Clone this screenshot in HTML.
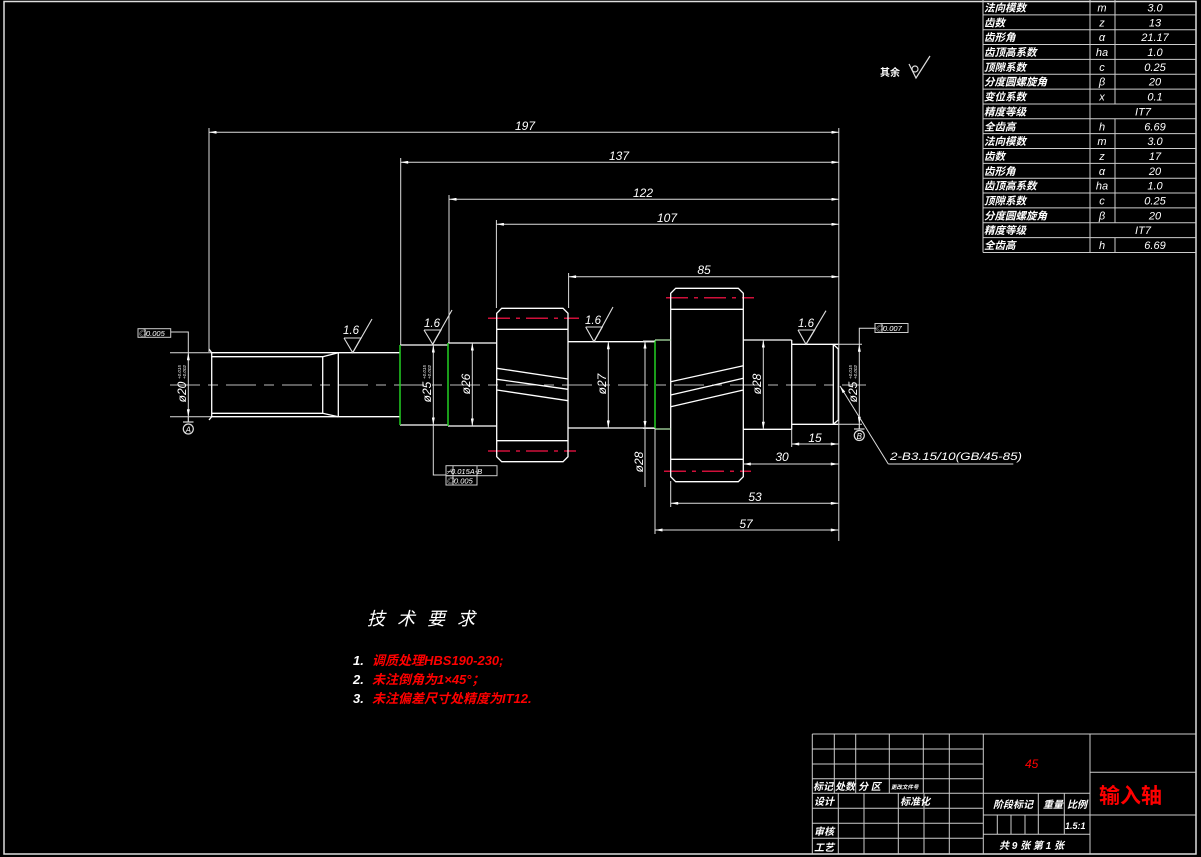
<!DOCTYPE html>
<html><head><meta charset="utf-8"><style>
html,body{margin:0;padding:0;background:#000;}
svg{display:block;}
text{font-family:"Liberation Sans","Noto Sans CJK SC",sans-serif;}
.cj{font-family:"Liberation Sans","Noto Sans CJK SC",sans-serif;font-weight:bold;}
.dv{font-family:"DejaVu Sans","Liberation Sans",sans-serif;}
</style></head><body>
<svg width="1201" height="857" viewBox="0 0 1201 857" xmlns="http://www.w3.org/2000/svg">
<defs>
<marker id="a" viewBox="0 0 10 4" refX="10" refY="2" markerWidth="8" markerHeight="3" orient="auto-start-reverse" markerUnits="userSpaceOnUse"><path d="M0,0 L10,2 L0,4z" fill="#fff"/></marker>
</defs>
<rect width="1201" height="857" fill="#000"/>
<rect x="4" y="1.5" width="1192" height="852.5" fill="none" stroke="#ddd" stroke-width="1.5"/>

<g stroke="#ccc" stroke-width="1" fill="none">
<line x1="983" y1="0" x2="983" y2="252.5"/>
<line x1="1090" y1="0" x2="1090" y2="252.5"/>
<line x1="1115" y1="0" x2="1115" y2="104"/>
<line x1="1115" y1="118.8" x2="1115" y2="222.7"/>
<line x1="1115" y1="237.6" x2="1115" y2="252.5"/>
<line x1="983" y1="14.85" x2="1196" y2="14.85"/>
<line x1="983" y1="29.7" x2="1196" y2="29.7"/>
<line x1="983" y1="44.55" x2="1196" y2="44.55"/>
<line x1="983" y1="59.4" x2="1196" y2="59.4"/>
<line x1="983" y1="74.25" x2="1196" y2="74.25"/>
<line x1="983" y1="89.1" x2="1196" y2="89.1"/>
<line x1="983" y1="103.95" x2="1196" y2="103.95"/>
<line x1="983" y1="118.8" x2="1196" y2="118.8"/>
<line x1="983" y1="133.65" x2="1196" y2="133.65"/>
<line x1="983" y1="148.5" x2="1196" y2="148.5"/>
<line x1="983" y1="163.35" x2="1196" y2="163.35"/>
<line x1="983" y1="178.2" x2="1196" y2="178.2"/>
<line x1="983" y1="193.05" x2="1196" y2="193.05"/>
<line x1="983" y1="207.9" x2="1196" y2="207.9"/>
<line x1="983" y1="222.75" x2="1196" y2="222.75"/>
<line x1="983" y1="237.6" x2="1196" y2="237.6"/>
<line x1="983" y1="252.45" x2="1196" y2="252.45"/>
</g>
<g fill="#fff" font-size="10.5" class="cj" font-style="italic">
<text x="984" y="11.5">法向模数</text>
<text x="984" y="26.3">齿数</text>
<text x="984" y="41.2">齿形角</text>
<text x="984" y="56">齿顶高系数</text>
<text x="984" y="70.9">顶隙系数</text>
<text x="984" y="85.7">分度圆螺旋角</text>
<text x="984" y="100.6">变位系数</text>
<text x="984" y="115.4">精度等级</text>
<text x="984" y="130.3">全齿高</text>
<text x="984" y="145.1">法向模数</text>
<text x="984" y="160">齿数</text>
<text x="984" y="174.8">齿形角</text>
<text x="984" y="189.7">齿顶高系数</text>
<text x="984" y="204.5">顶隙系数</text>
<text x="984" y="219.4">分度圆螺旋角</text>
<text x="984" y="234.2">精度等级</text>
<text x="984" y="249.1">全齿高</text>
</g>
<g fill="#fff" font-size="11" font-style="italic" text-anchor="middle">
<text x="1102" y="11.5">m</text><text x="1155" y="11.5">3.0</text>
<text x="1102" y="26.3">z</text><text x="1155" y="26.3">13</text>
<text x="1102" y="41.2">α</text><text x="1155" y="41.2">21.17</text>
<text x="1102" y="56">ha</text><text x="1155" y="56">1.0</text>
<text x="1102" y="70.9">c</text><text x="1155" y="70.9">0.25</text>
<text x="1102" y="85.7">β</text><text x="1155" y="85.7">20</text>
<text x="1102" y="100.6">x</text><text x="1155" y="100.6">0.1</text>
<text x="1143" y="115.4">IT7</text>
<text x="1102" y="130.3">h</text><text x="1155" y="130.3">6.69</text>
<text x="1102" y="145.1">m</text><text x="1155" y="145.1">3.0</text>
<text x="1102" y="160">z</text><text x="1155" y="160">17</text>
<text x="1102" y="174.8">α</text><text x="1155" y="174.8">20</text>
<text x="1102" y="189.7">ha</text><text x="1155" y="189.7">1.0</text>
<text x="1102" y="204.5">c</text><text x="1155" y="204.5">0.25</text>
<text x="1102" y="219.4">β</text><text x="1155" y="219.4">20</text>
<text x="1143" y="234.2">IT7</text>
<text x="1102" y="249.1">h</text><text x="1155" y="249.1">6.69</text>
</g>

<text x="880" y="76" fill="#fff" font-size="10" class="cj">其余</text>
<g stroke="#ddd" stroke-width="1.2" fill="none">
<circle cx="915" cy="69" r="3"/>
<polyline points="909,64 916,78 930,56"/>
</g>

<line x1="170" y1="385" x2="866" y2="385" stroke="#bbb" stroke-width="1" stroke-dasharray="30 8 10 8"/>

<g stroke="#d0103a" stroke-width="1.5" stroke-dasharray="22 6 4 6" fill="none">
<line x1="488" y1="318.3" x2="579" y2="318.3"/>
<line x1="488" y1="451" x2="576" y2="451"/>
<line x1="666" y1="297.7" x2="754" y2="297.7"/>
<line x1="664" y1="471.3" x2="751" y2="471.3"/>
</g>

<g stroke="#fff" stroke-width="1.3" fill="none">
<polyline points="209,349 211.7,352.7 400,352.7"/>
<polyline points="209,420 211.7,416.7 400,416.7"/>
<line x1="211.7" y1="352.7" x2="211.7" y2="416.7"/>
<polyline points="212,356.7 322.7,356.7 338.3,352.7"/>
<polyline points="212,413.3 322.7,413.3 338.3,416.7"/>
<line x1="322.7" y1="356.7" x2="322.7" y2="413.3"/>
<line x1="338.3" y1="352.7" x2="338.3" y2="416.7"/>
<line x1="400" y1="345" x2="448" y2="345"/>
<line x1="400" y1="425" x2="448" y2="425"/>
<line x1="448" y1="343" x2="496.7" y2="343"/>
<line x1="448" y1="426" x2="496.7" y2="426"/>
<line x1="568" y1="341.7" x2="655" y2="341.7"/>
<line x1="568" y1="428" x2="655" y2="428"/>
<line x1="743.3" y1="340" x2="791.7" y2="340"/>
<line x1="743.3" y1="429.3" x2="791.7" y2="429.3"/>
<line x1="791.7" y1="340" x2="791.7" y2="429.3"/>
<line x1="791.7" y1="344.3" x2="838.3" y2="344.3"/>
<line x1="791.7" y1="424.3" x2="838.3" y2="424.3"/>
<line x1="838.3" y1="349" x2="838.3" y2="420"/>
<line x1="833.3" y1="344.3" x2="833.3" y2="424.3"/>
<line x1="833.3" y1="344.3" x2="838.3" y2="349"/>
<line x1="833.3" y1="424.3" x2="838.3" y2="420"/>
<path d="M501.7,308.3 L563,308.3 L568,313.3 L568,456.7 L563,461.7 L501.7,461.7 L496.7,456.7 L496.7,313.3 Z"/>
<line x1="496.7" y1="329.3" x2="568" y2="329.3"/>
<line x1="496.7" y1="440.7" x2="568" y2="440.7"/>
<line x1="497" y1="368.3" x2="568" y2="379"/>
<line x1="497" y1="379.3" x2="568" y2="389.3"/>
<line x1="497" y1="390" x2="568" y2="400.7"/>
<path d="M675.7,288.3 L738.3,288.3 L743.3,293.3 L743.3,476.7 L738.3,481.7 L675.7,481.7 L670.7,476.7 L670.7,293.3 Z"/>
<line x1="670.7" y1="309.3" x2="743.3" y2="309.3"/>
<line x1="670.7" y1="459.3" x2="743.3" y2="459.3"/>
<line x1="670.7" y1="381.7" x2="743.3" y2="365.7"/>
<line x1="670.7" y1="395" x2="743.3" y2="378.3"/>
<line x1="670.7" y1="406.7" x2="743.3" y2="390"/>
</g>
<g stroke="#22d022" stroke-width="1.5" fill="none">
<line x1="400" y1="345" x2="400" y2="425"/>
<line x1="448" y1="343" x2="448" y2="426"/>
<line x1="655" y1="340" x2="655" y2="429"/>
</g>
<g stroke="#b8f0b0" stroke-width="1.2">
<line x1="655" y1="340" x2="670.7" y2="340"/>
<line x1="655" y1="429" x2="670.7" y2="429"/>
</g>

<g stroke="#ddd" stroke-width="1" fill="none">
<line x1="209" y1="128" x2="209" y2="352"/>
<line x1="400.7" y1="158" x2="400.7" y2="345"/>
<line x1="449" y1="195" x2="449" y2="343"/>
<line x1="496.4" y1="220" x2="496.4" y2="308"/>
<line x1="568.6" y1="273" x2="568.6" y2="308"/>
<line x1="838.8" y1="128" x2="838.8" y2="541"/>
<line x1="791.7" y1="429" x2="791.7" y2="447"/>
<line x1="670.7" y1="481" x2="670.7" y2="507"/>
<line x1="655" y1="429" x2="655" y2="534"/>
<line x1="170" y1="352.7" x2="211" y2="352.7"/>
<line x1="170" y1="416.7" x2="211" y2="416.7"/>
<line x1="838" y1="344.3" x2="862" y2="344.3"/>
<line x1="838" y1="424.3" x2="862" y2="424.3"/>
<line x1="643" y1="341" x2="655" y2="341"/>
<line x1="643" y1="428.5" x2="655" y2="428.5"/>
<polyline points="188.3,352.7 188.3,332 170.7,332"/>
<polyline points="433.3,425 433.3,475 446,475"/>
<polyline points="859.3,344.3 859.3,328.3 876,328.3"/>
<line x1="645" y1="429" x2="645" y2="487"/>
<polyline points="888.3,464 1013.3,464"/>
</g>
<line x1="888.3" y1="464" x2="840" y2="386" stroke="#ddd" stroke-width="1" marker-end="url(#a)"/>

<g stroke="#ddd" stroke-width="1" fill="none" marker-start="url(#a)" marker-end="url(#a)">
<line x1="209" y1="132.3" x2="839" y2="132.3"/>
<line x1="400.7" y1="162.3" x2="839" y2="162.3"/>
<line x1="449" y1="199.3" x2="839" y2="199.3"/>
<line x1="496.4" y1="224.3" x2="839" y2="224.3"/>
<line x1="568.6" y1="276.7" x2="839" y2="276.7"/>
<line x1="791.7" y1="444" x2="838.3" y2="444"/>
<line x1="743.3" y1="464" x2="838.3" y2="464"/>
<line x1="670.7" y1="503.3" x2="838.3" y2="503.3"/>
<line x1="655" y1="530" x2="838.3" y2="530"/>
<line x1="188.3" y1="352.7" x2="188.3" y2="416.7"/>
<line x1="433.3" y1="345" x2="433.3" y2="425"/>
<line x1="472.3" y1="343" x2="472.3" y2="426"/>
<line x1="608.3" y1="341.7" x2="608.3" y2="428"/>
<line x1="645" y1="341" x2="645" y2="428.5"/>
<line x1="763.3" y1="340" x2="763.3" y2="429.3"/>
<line x1="859.3" y1="344.3" x2="859.3" y2="424.3"/>
</g>

<g fill="#fff" font-size="12" font-style="italic" text-anchor="middle">
<text x="525" y="130">197</text>
<text x="619" y="160">137</text>
<text x="643" y="197">122</text>
<text x="667" y="222">107</text>
<text x="704" y="274">85</text>
<text x="815" y="442">15</text>
<text x="782" y="461">30</text>
<text x="755" y="501">53</text>
<text x="746" y="528">57</text>
<text transform="rotate(-90 186 392)" x="186" y="392">ø20</text>
<text transform="rotate(-90 431 392)" x="431" y="392">ø25</text>
<text transform="rotate(-90 470 384)" x="470" y="384">ø26</text>
<text transform="rotate(-90 606 384)" x="606" y="384">ø27</text>
<text transform="rotate(-90 761 384)" x="761" y="384">ø28</text>
<text transform="rotate(-90 643 462)" x="643" y="462">ø28</text>
<text transform="rotate(-90 857 392)" x="857" y="392">ø25</text>
</g>
<g fill="#fff" font-size="4.5" font-style="italic" text-anchor="middle">
<text transform="rotate(-90 181 372)" x="181" y="372">+0.015</text>
<text transform="rotate(-90 186 372)" x="186" y="372">+0.002</text>
<text transform="rotate(-90 426 372)" x="426" y="372">+0.015</text>
<text transform="rotate(-90 431 372)" x="431" y="372">+0.002</text>
<text transform="rotate(-90 852 372)" x="852" y="372">+0.015</text>
<text transform="rotate(-90 857 372)" x="857" y="372">+0.002</text>
</g>
<text x="890" y="460" fill="#fff" font-size="11" font-style="italic" textLength="132" lengthAdjust="spacingAndGlyphs">2-B3.15/10(GB/45-85)</text>

<g stroke="#ccc" stroke-width="1" fill="none">
<rect x="138" y="328.7" width="32.7" height="8.6"/>
<rect x="875" y="323.5" width="33" height="9"/>
<rect x="446" y="465.7" width="51" height="10"/>
<line x1="453" y1="465.7" x2="453" y2="485"/>
<line x1="477" y1="465.7" x2="477" y2="475.7"/>
<rect x="446" y="475.7" width="31" height="9.3"/>
<line x1="145" y1="328.7" x2="145" y2="337.3"/>
<line x1="882" y1="323.5" x2="882" y2="332.5"/>
</g>
<g fill="#fff" font-size="7.5" font-style="italic" class="dv">
<text x="138.5" y="336">◎0.005</text>
<text x="875.5" y="331">◎0.007</text>
<text x="446.5" y="474">⌿0.015A-B</text>
<text x="446.5" y="483.5">◎0.005</text>
</g>

<g stroke="#ddd" stroke-width="1.2" fill="none">
<line x1="188.3" y1="416.7" x2="188.3" y2="422"/>
<line x1="183" y1="422" x2="193.5" y2="422"/>
<circle cx="188.3" cy="429" r="5"/>
<line x1="859.3" y1="424.3" x2="859.3" y2="429"/>
<line x1="854" y1="429" x2="864.5" y2="429"/>
<circle cx="859.3" cy="435.5" r="5"/>
</g>
<text x="188.3" y="432.5" fill="#fff" font-size="8" text-anchor="middle" font-style="italic">A</text>
<text x="859.3" y="439" fill="#fff" font-size="8" text-anchor="middle" font-style="italic">B</text>

<g stroke="#ddd" stroke-width="1.1" fill="none">
<polyline points="344,338 361,338 352.7,352.7 344,338"/>
<line x1="352.7" y1="352.7" x2="372" y2="319"/>
<polyline points="424,330 441,330 432.7,344.3 424,330"/>
<line x1="432.7" y1="344.3" x2="452" y2="310"/>
<polyline points="585.7,327 602.3,327 594,341.7 585.7,327"/>
<line x1="594" y1="341.7" x2="613" y2="307"/>
<polyline points="798,330 814.7,330 806,344.3 798,330"/>
<line x1="806" y1="344.3" x2="826" y2="310.7"/>
</g>
<g fill="#fff" font-size="11.5" font-style="italic" text-anchor="middle">
<text x="351" y="334">1.6</text>
<text x="432" y="327">1.6</text>
<text x="593" y="324">1.6</text>
<text x="806" y="327">1.6</text>
</g>

<text x="367" y="625" fill="#fff" font-size="18" class="cj" style="font-weight:normal" font-style="italic" letter-spacing="12">技术要求</text>
<g font-size="13" font-style="italic" class="cj">
<text x="353" y="665" fill="#fff">1.</text><text x="372" y="665" fill="#ff0000">调质处理HBS190-230;</text>
<text x="353" y="684" fill="#fff">2.</text><text x="372" y="684" fill="#ff0000">未注倒角为1×45°；</text>
<text x="353" y="703" fill="#fff">3.</text><text x="372" y="703" fill="#ff0000">未注偏差尺寸处精度为IT12.</text>
</g>

<g stroke="#ccc" stroke-width="1" fill="none">
<line x1="812.3" y1="734" x2="1196" y2="734"/>
<line x1="812.3" y1="734" x2="812.3" y2="854"/>
<line x1="812.3" y1="749" x2="983.3" y2="749"/>
<line x1="812.3" y1="764" x2="983.3" y2="764"/>
<line x1="812.3" y1="778.7" x2="983.3" y2="778.7"/>
<line x1="812.3" y1="793.3" x2="1090" y2="793.3"/>
<line x1="812.3" y1="808.3" x2="983.3" y2="808.3"/>
<line x1="812.3" y1="823.3" x2="983.3" y2="823.3"/>
<line x1="812.3" y1="838.3" x2="983.3" y2="838.3"/>
<line x1="834.3" y1="734" x2="834.3" y2="793.3"/>
<line x1="855.7" y1="734" x2="855.7" y2="793.3"/>
<line x1="889.3" y1="734" x2="889.3" y2="793.3"/>
<line x1="923.3" y1="734" x2="923.3" y2="793.3"/>
<line x1="949.3" y1="734" x2="949.3" y2="854"/>
<line x1="838.3" y1="793.3" x2="838.3" y2="854"/>
<line x1="864" y1="793.3" x2="864" y2="854"/>
<line x1="898.3" y1="793.3" x2="898.3" y2="854"/>
<line x1="924" y1="793.3" x2="924" y2="854"/>
<line x1="983.3" y1="734" x2="983.3" y2="854"/>
<line x1="983.3" y1="815" x2="1196" y2="815"/>
<line x1="983.3" y1="834.3" x2="1090" y2="834.3"/>
<line x1="1038.3" y1="793.3" x2="1038.3" y2="834.3"/>
<line x1="1064.3" y1="793.3" x2="1064.3" y2="834.3"/>
<line x1="997.3" y1="815" x2="997.3" y2="834.3"/>
<line x1="1011" y1="815" x2="1011" y2="834.3"/>
<line x1="1025" y1="815" x2="1025" y2="834.3"/>
<line x1="1090" y1="734" x2="1090" y2="854"/>
<line x1="1090" y1="772.3" x2="1196" y2="772.3"/>
</g>
<g fill="#fff" font-size="10" class="cj" font-style="italic">
<text x="813" y="790">标记</text>
<text x="835" y="790">处数</text>
<text x="858" y="790">分 区</text>
<text x="891" y="789" font-size="5.5">更改文件号</text>
<text x="814" y="805">设计</text>
<text x="900" y="805">标准化</text>
<text x="814" y="835">审核</text>
<text x="814" y="851">工艺</text>
<text x="993" y="808">阶段标记</text>
<text x="1043" y="808">重量</text>
<text x="1067" y="808">比例</text>
<text x="1065" y="829" font-size="9">1.5:1</text>
<text x="999" y="849">共 9 张  第 1 张</text>
</g>
<text x="1025" y="768" fill="#ff0000" font-size="12" font-style="italic">45</text>
<text x="1099" y="803" fill="#ff0000" font-size="21" font-weight="bold" font-family="Liberation Sans, Noto Sans CJK SC, sans-serif">输入轴</text>
</svg>
</body></html>
